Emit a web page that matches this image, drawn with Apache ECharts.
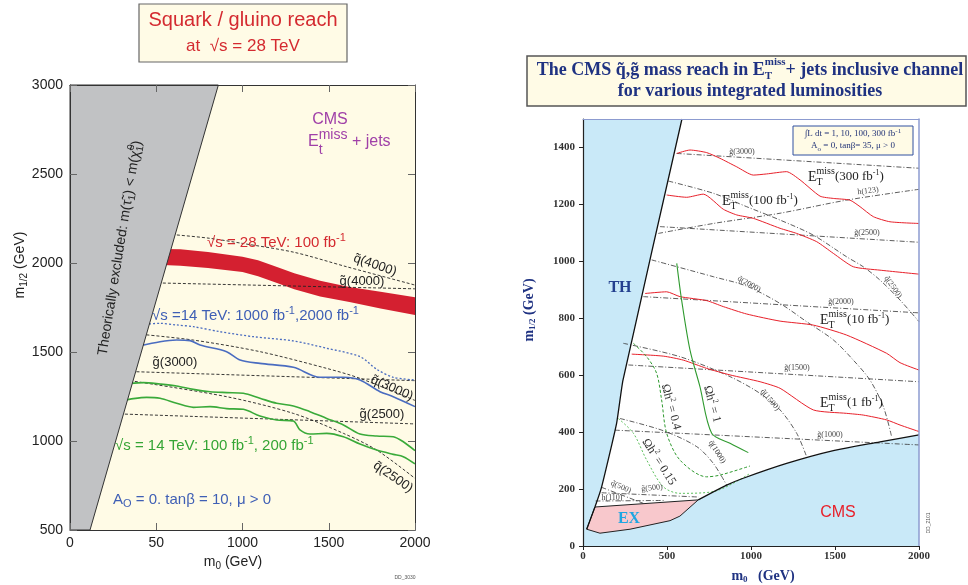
<!DOCTYPE html>
<html><head><meta charset="utf-8">
<script src="https://cdn.jsdelivr.net/npm/echarts@6/dist/echarts.min.js"></script>
<style>html,body{margin:0;padding:0;background:#fff}#c{width:968px;height:585px}</style>
</head><body><div id="c"></div><script>
// ---------------- LEFT PANEL DATA ----------------
const leftXTickLabels = ['0','50','1000','1500','2000'];
const leftExcluded = [[0,500],[0,3000],[860,3000],[116,500]];
const band28Upper = [[540,2079],[640,2077],[800,2062],[1000,2035],[1090,2015],[1200,1978],[1300,1942],[1450,1900],[1620,1865],[1800,1838],[2000,1808]];
const band28Lower = [[540,1989],[640,1985],[800,1972],[1000,1950],[1090,1925],[1200,1888],[1300,1852],[1450,1812],[1620,1781],[1800,1745],[2000,1708]];
const sq4000 = [[591,2160],[800,2140],[1000,2110],[1300,2060],[1600,1980],[2000,1876]];
const gl4000 = [[510,1888],[2000,1855]];
const sq3000 = [[415,1599],[715,1567],[1101,1502],[1488,1408],[1681,1352],[2000,1228]];
const gl3000 = [[357,1390],[2000,1339]];
const sq2500 = [[348,1339],[908,1249],[1295,1155],[1585,1043],[1778,949],[2000,790]];
const gl2500 = [[290,1152],[2000,1096]];
const blue2000 = [[435,1656],[522,1661],[618,1652],[715,1642],[870,1614],[1063,1586],[1295,1562],[1488,1521],[1681,1474],[1778,1403],[1874,1358],[2000,1343]];
const blue1000 = [[402,1534],[522,1558],[618,1567],[696,1564],[754,1539],[908,1502],[986,1455],[1101,1436],[1295,1414],[1449,1358],[1585,1358],[1681,1343],[1797,1277],[1874,1249],[2000,1193]];
const green200 = [[348,1324],[425,1328],[522,1320],[618,1309],[715,1290],[812,1277],[908,1272],[1005,1268],[1101,1240],[1198,1212],[1295,1197],[1391,1165],[1488,1127],[1585,1090],[1681,1039],[1778,1028],[1874,1024],[1932,996],[2000,946]];
const green100 = [[305,1227],[367,1238],[444,1245],[522,1240],[618,1212],[715,1189],[812,1193],[908,1182],[1005,1178],[1101,1140],[1198,1118],[1295,1112],[1333,1062],[1391,1039],[1488,1043],[1585,1024],[1681,983],[1778,949],[1874,925],[1932,912],[2000,871]];

// ---------------- RIGHT PANEL DATA ----------------
const rightYTicks = [0,200,400,600,800,1000,1200,1400];
const rAllowed = [[589,1500],[2000,1500],[2000,390],[1768,366],[1490,335],[1212,290],[954,238],[855,214],[686,162],[71,137],[111,208],[200,431],[238,583]];
const rEX = [[71,137],[686,162],[577,105],[518,89],[280,59],[101,45],[22,59]];
const rTHEdge = [[589,1500],[238,583],[200,431],[111,208],[71,137],[22,59]];
const rCMSEdge = [[686,162],[855,214],[954,238],[1212,290],[1490,335],[1768,366],[2000,390]];
const et300 = [[558,1379],[637,1391],[736,1382],[815,1362],[915,1332],[1014,1303],[1093,1307],[1212,1315],[1292,1286],[1411,1229],[1490,1221],[1589,1215],[1649,1192],[1728,1157],[1827,1139],[2000,1133]];
const et100 = [[498,1233],[617,1225],[716,1236],[835,1183],[915,1163],[1014,1151],[1173,1116],[1272,1098],[1391,1069],[1490,1028],[1609,981],[1768,969],[2000,955]];
const et10 = [[369,887],[498,893],[577,876],[736,862],[835,841],[974,815],[1173,790],[1371,776],[1569,741],[1807,677],[1887,644],[2000,618]];
const et1 = [[290,674],[478,667],[597,653],[736,624],[875,601],[1054,577],[1173,554],[1371,478],[1569,466],[1668,460],[1807,443],[1887,425],[2000,402]];
const rG3000 = [[558,1379],[2000,1327]];
const rQ2500 = [[508,1282],[776,1239],[974,1192],[1173,1145],[1371,1092],[1569,1016],[1668,981],[1768,934],[1887,864],[2000,788]];
const rH123 = [[448,1098],[776,1133],[1173,1169],[1569,1215],[2000,1253]];
const rG2500 = [[458,1122],[2000,1067]];
const rQ2000 = [[409,1005],[776,946],[974,913],[1173,852],[1331,788],[1490,724],[1609,653],[1708,583],[1788,489],[1837,384]];
const rG2000 = [[359,876],[2000,819]];
const rG1500 = [[270,636],[2000,577]];
const rQ1500 = [[240,712],[577,665],[875,595],[1054,536],[1173,478],[1272,396],[1331,314]];
const rG1000 = [[190,407],[2000,355]];
const rQ1000 = [[220,448],[478,405],[677,349],[776,290],[855,214]];
const rG500 = [[111,187],[690,172]];
const rQ500 = [[111,206],[359,150]];
const rH110 = [[75,158],[480,160]];
const omega1 = [[558,993],[587,864],[637,688],[696,560],[766,396],[875,361],[984,328]];
const omega04 = [[300,712],[379,665],[438,607],[468,513],[498,396],[577,302],[736,243],[815,249],[994,281]];
const omega015 = [[210,448],[300,396],[379,302],[478,208],[577,185],[776,191],[994,255]];

// ---------------- helpers ----------------
const FS = '"Liberation Sans", Arial, sans-serif';
const FR = '"Liberation Serif", "Times New Roman", serif';
const mctx = document.createElement('canvas').getContext('2d');
function tw(t, font){ mctx.font = font; return mctx.measureText(t).width; }
function txt(x,y,t,font,fill){
  return {type:'text', x:x, y:y, z:100, silent:true,
    style:{text:t, font:font, fill:fill, textAlign:'left', textVerticalAlign:'middle', align:'left', verticalAlign:'middle'}};
}
function seq(x, y, segs, o){
  o = o || {};
  const w = segs.map(s => s.stack ? Math.max(tw(s.sup,s.font), tw(s.sub,s.font)) : tw(s.t, s.font));
  const total = w.reduce((a,b)=>a+b,0);
  let cx = o.align==='center' ? -total/2 : (o.align==='right' ? -total : 0);
  const ch = [];
  segs.forEach((s,i)=>{
    const fill = s.fill || o.fill;
    if (s.stack){
      ch.push(txt(cx, s.supDy, s.sup, s.font, fill));
      ch.push(txt(cx, s.subDy, s.sub, s.font, fill));
    } else ch.push(txt(cx, s.dy||0, s.t, s.font, fill));
    cx += w[i];
  });
  return {type:'group', x:x, y:y, rotation:o.rot||0, z:100, children:ch};
}
function poly(xi, yi, pts, style, z){
  return {type:'custom', xAxisIndex:xi, yAxisIndex:yi, silent:true, z:z, data:[0], animation:false,
    renderItem:(p, api)=>({type:'polygon', shape:{points: pts.map(q=>api.coord(q))}, style:style})};
}
function line(xi, yi, pts, color, width, type, z, smooth){
  return {type:'line', xAxisIndex:xi, yAxisIndex:yi, data:pts, symbol:'none', silent:true, z:z||3,
    smooth: smooth===undefined?0.3:smooth, animation:false,
    lineStyle:{color:color, width:width, type:type||'solid'}};
}

// ---------------- axes ----------------
function leftAxisLine(){ return {show:true, onZero:false, lineStyle:{color:'#333', width:1}}; }
function leftTick(){ return {show:true, inside:false, length:-7, lineStyle:{color:'#666', width:1}}; }
const rTickLabel = {color:'#333', fontFamily:FR, fontWeight:'bold', fontSize:11};
const plain = v => String(v);
const xAxes = [
  {gridIndex:0, type:'value', min:0, max:2000, interval:500, position:'bottom', z:10,
   axisLine:leftAxisLine(), axisTick:leftTick(), splitLine:{show:false},
   axisLabel:{formatter:v=>leftXTickLabels[Math.round(v/500)], color:'#222', fontSize:14, fontFamily:FS, margin:6}},
  {gridIndex:0, type:'value', min:0, max:2000, interval:500, position:'top', z:10,
   axisLine:leftAxisLine(), axisTick:leftTick(), splitLine:{show:false}, axisLabel:{show:false}},
  {gridIndex:1, type:'value', min:0, max:2000, interval:500, position:'bottom', z:10,
   axisLine:{show:true, onZero:false, lineStyle:{color:'#222', width:1.2}}, axisTick:{show:true, inside:false, length:4, lineStyle:{color:'#222'}},
   splitLine:{show:false}, axisLabel:Object.assign({margin:5, formatter:plain}, rTickLabel)},
  {gridIndex:1, type:'value', min:0, max:2000, position:'top', z:10,
   axisLine:{show:true, onZero:false, lineStyle:{color:'#8c9bd0', width:1}}, axisTick:{show:false}, splitLine:{show:false}, axisLabel:{show:false}}
];
const yAxes = [
  {gridIndex:0, type:'value', min:500, max:3000, interval:500, position:'left', z:10,
   axisLine:leftAxisLine(), axisTick:leftTick(), splitLine:{show:false},
   axisLabel:{color:'#222', fontSize:14, fontFamily:FS, margin:7, formatter:plain}},
  {gridIndex:0, type:'value', min:500, max:3000, interval:500, position:'right', z:10,
   axisLine:leftAxisLine(), axisTick:leftTick(), splitLine:{show:false}, axisLabel:{show:false}},
  {gridIndex:1, type:'value', min:0, max:1500, position:'left', z:10,
   axisLine:{show:true, onZero:false, lineStyle:{color:'#222', width:1.2}},
   axisTick:{show:true, inside:false, length:4, customValues:rightYTicks, lineStyle:{color:'#222'}},
   splitLine:{show:false}, axisLabel:Object.assign({margin:8, customValues:rightYTicks, formatter:plain}, rTickLabel)},
  {gridIndex:1, type:'value', min:0, max:1500, position:'right', z:10,
   axisLine:{show:true, onZero:false, lineStyle:{color:'#8c9bd0', width:1.5}}, axisTick:{show:false}, splitLine:{show:false}, axisLabel:{show:false}}
];

// ---------------- series ----------------
const DASH = [3,2];
const DD = [5,2,1,2];
const series = [
  // left
  poly(0,0, band28Upper.concat(band28Lower.slice().reverse()), {fill:'#D42030'}, 1),
  line(0,0, sq4000, '#222', 0.9, DASH, 3),
  line(0,0, gl4000, '#222', 0.9, DASH, 3),
  line(0,0, sq3000, '#222', 0.9, DASH, 3),
  line(0,0, gl3000, '#222', 0.9, DASH, 3),
  line(0,0, sq2500, '#222', 0.9, DASH, 3),
  line(0,0, gl2500, '#222', 0.9, DASH, 3),
  line(0,0, blue2000, '#4a6cc0', 1.3, [2,2], 4),
  line(0,0, blue1000, '#4a6cc0', 1.6, 'solid', 4),
  line(0,0, green200, '#3aaa3a', 1.6, 'solid', 4),
  line(0,0, green100, '#3aaa3a', 1.6, 'solid', 4),
  poly(0,0, leftExcluded, {fill:'#c1c2c4', stroke:'#333', lineWidth:1}, 6),
  // right
  poly(2,2, rAllowed, {fill:'#ffffff'}, 1),
  poly(2,2, rEX, {fill:'#f8c8cc', stroke:'#222', lineWidth:1}, 2),
  line(2,2, rTHEdge, '#111', 1.3, 'solid', 5, 0.15),
  line(2,2, rCMSEdge, '#111', 1.3, 'solid', 5, 0.3),
  line(2,2, rG3000, '#333', 0.8, DD, 3),
  line(2,2, rQ2500, '#333', 0.8, DD, 3),
  line(2,2, rH123, '#333', 0.8, DD, 3),
  line(2,2, rG2500, '#333', 0.8, DD, 3),
  line(2,2, rQ2000, '#333', 0.8, DD, 3),
  line(2,2, rG2000, '#333', 0.8, DD, 3),
  line(2,2, rG1500, '#333', 0.8, DD, 3),
  line(2,2, rQ1500, '#333', 0.8, DD, 3),
  line(2,2, rG1000, '#333', 0.8, DD, 3),
  line(2,2, rQ1000, '#333', 0.8, DD, 3),
  line(2,2, rG500, '#333', 0.8, DD, 3),
  line(2,2, rQ500, '#333', 0.8, DD, 3),
  line(2,2, rH110, '#333', 0.8, DD, 3),
  line(2,2, et300, '#e8202a', 1, 'solid', 4, 0.2),
  line(2,2, et100, '#e8202a', 1, 'solid', 4, 0.2),
  line(2,2, et10, '#e8202a', 1, 'solid', 4, 0.2),
  line(2,2, et1, '#e8202a', 1, 'solid', 4, 0.2),
  line(2,2, omega1, '#2f9a2f', 1.1, 'solid', 4, 0.3),
  line(2,2, omega04, '#2f9a2f', 1, [3,2], 4, 0.3),
  line(2,2, omega015, '#5cc05c', 1, [2,2], 4, 0.3)
];

// ---------------- text / graphics ----------------
const RED = '#d42a30', BLUE = '#3f5fb5', GREEN = '#35a535', PURPLE = '#a040a8', NAVY = '#1f3282';
const g = [];
// left title box
g.push({type:'rect', shape:{x:139, y:4, width:208, height:58}, style:{fill:'#fffbe6', stroke:'#666', lineWidth:1.2}, z:90});
g.push(seq(243, 20, [{t:'Squark / gluino reach', font:'20px '+FS}], {align:'center', fill:RED}));
g.push(seq(243, 46, [{t:'at  \u221As = 28 TeV', font:'17px '+FS}], {align:'center', fill:RED}));
// left axis names
g.push(seq(20, 265, [{t:'m', font:'14px '+FS},{t:'1/2', font:'10px '+FS, dy:4},{t:' (GeV)', font:'14px '+FS}], {align:'center', rot:Math.PI/2, fill:'#222'}));
g.push(seq(233, 562, [{t:'m', font:'14px '+FS},{t:'0', font:'10px '+FS, dy:4},{t:' (GeV)', font:'14px '+FS}], {align:'center', fill:'#222'}));
g.push(seq(405, 578, [{t:'DD_3030', font:'5px '+FS}], {align:'center', fill:'#555'}));
// left annotations
g.push(seq(330, 120, [{t:'CMS', font:'16px '+FS}], {align:'center', fill:PURPLE}));
g.push(seq(308, 142, [{t:'E', font:'16px '+FS},{stack:true, sup:'miss', sub:'t', font:'14px '+FS, supDy:-7, subDy:8},{t:' + jets', font:'16px '+FS}], {fill:PURPLE}));
g.push(seq(120, 248, [{t:'Theorically excluded: m(\u03C4\u0303', font:'14px '+FS},{t:'1', font:'10px '+FS, dy:4},{t:') < m(\u03C7\u0303', font:'14px '+FS},{stack:true, sup:'0', sub:'1', font:'10px '+FS, supDy:-5, subDy:4},{t:')', font:'14px '+FS}], {align:'center', rot:1.41, fill:'#222'}));
g.push(seq(207, 243, [{t:'\u221As = 28 TeV: 100 fb', font:'15px '+FS},{t:'-1', font:'11px '+FS, dy:-5}], {fill:RED}));
g.push(seq(375, 265, [{t:'q\u0303(4000)', font:'13px '+FS}], {align:'center', rot:-0.33, fill:'#222'}));
g.push(seq(362, 281, [{t:'g\u0303(4000)', font:'13px '+FS}], {align:'center', fill:'#222'}));
g.push(seq(152, 316, [{t:'\u221As =14 TeV: 1000 fb', font:'15px '+FS},{t:'-1', font:'11px '+FS, dy:-5},{t:',2000 fb', font:'15px '+FS},{t:'-1', font:'11px '+FS, dy:-5}], {fill:BLUE}));
g.push(seq(175, 362, [{t:'g\u0303(3000)', font:'13px '+FS}], {align:'center', fill:'#222'}));
g.push(seq(392, 388, [{t:'q\u0303(3000)', font:'13px '+FS}], {align:'center', rot:-0.42, fill:'#222'}));
g.push(seq(382, 414, [{t:'g\u0303(2500)', font:'13px '+FS}], {align:'center', fill:'#222'}));
g.push(seq(393, 477, [{t:'q\u0303(2500)', font:'13px '+FS}], {align:'center', rot:-0.6, fill:'#222'}));
g.push(seq(115, 446, [{t:'\u221As = 14 TeV: 100 fb', font:'15px '+FS},{t:'-1', font:'11px '+FS, dy:-5},{t:', 200 fb', font:'15px '+FS},{t:'-1', font:'11px '+FS, dy:-5}], {fill:GREEN}));
g.push(seq(113, 500, [{t:'A', font:'15px '+FS},{t:'O', font:'11px '+FS, dy:4},{t:' = 0. tan\u03B2 = 10, \u03BC > 0', font:'15px '+FS}], {fill:BLUE}));

// right title box
g.push({type:'rect', shape:{x:527, y:56, width:439, height:50}, style:{fill:'#fffbe6', stroke:'#555', lineWidth:1.5}, z:90});
g.push(seq(750, 70, [{t:'The CMS q\u0303,g\u0303 mass reach in E', font:'bold 18px '+FR},{stack:true, sup:'miss', sub:'T', font:'bold 11px '+FR, supDy:-8, subDy:6},{t:'+ jets inclusive channel', font:'bold 18px '+FR}], {align:'center', fill:NAVY}));
g.push(seq(750, 91, [{t:'for various integrated luminosities', font:'bold 18px '+FR}], {align:'center', fill:NAVY}));
// right axis names
g.push(seq(529, 310, [{t:'m', font:'bold 14px '+FR},{t:'1/2', font:'bold 9px '+FR, dy:4},{t:' (GeV)', font:'bold 14px '+FR}], {align:'center', rot:Math.PI/2, fill:NAVY}));
g.push(seq(763, 576, [{t:'m', font:'bold 14px '+FR},{t:'0', font:'bold 9px '+FR, dy:4},{t:'   (GeV)', font:'bold 14px '+FR}], {align:'center', fill:NAVY}));
g.push(seq(929, 523, [{t:'DD_2101', font:'5px '+FS}], {align:'center', rot:Math.PI/2, fill:'#555'}));
// right legend box
g.push({type:'rect', shape:{x:793, y:126, width:120, height:29}, style:{fill:'#fffbe6', stroke:'#3050a0', lineWidth:1}, z:90});
g.push(seq(853, 134, [{t:'\u222BL dt = 1, 10, 100, 300 fb', font:'9px '+FR},{t:'-1', font:'7px '+FR, dy:-3}], {align:'center', fill:'#223377'}));
g.push(seq(853, 146, [{t:'A', font:'9px '+FR},{t:'o', font:'7px '+FR, dy:3},{t:' = 0, tan\u03B2= 35, \u03BC > 0', font:'9px '+FR}], {align:'center', fill:'#223377'}));
// region labels
g.push(seq(620, 288, [{t:'TH', font:'bold 16px '+FR}], {align:'center', fill:'#24408f'}));
g.push(seq(629, 519, [{t:'EX', font:'bold 16px '+FR}], {align:'center', fill:'#1ea6e2'}));
g.push(seq(838, 513, [{t:'CMS', font:'16px '+FS}], {align:'center', fill:'#e8202a'}));
// Et miss labels
function etm(x, y, lum){
  return seq(x, y, [{t:'E', font:'14px '+FR},{stack:true, sup:'miss', sub:'T', font:'10px '+FR, supDy:-6, subDy:5},{t:'(' + lum + ' fb', font:'13px '+FR},{t:'-1', font:'8px '+FR, dy:-4},{t:')', font:'13px '+FR}], {fill:'#222'});
}
g.push(etm(808, 177, '300'));
g.push(etm(722, 201, '100'));
g.push(etm(820, 320, '10'));
g.push(etm(820, 403, '1'));
// small iso-mass labels
const SM = '8px '+FR;
g.push(seq(742, 152, [{t:'g\u0303(3000)', font:SM}], {align:'center', fill:'#444'}));
g.push(seq(868, 191, [{t:'h(123)', font:SM}], {align:'center', rot:0.12, fill:'#444'}));
g.push(seq(867, 233, [{t:'g\u0303(2500)', font:SM}], {align:'center', fill:'#444'}));
g.push(seq(749, 284, [{t:'q\u0303(2000)', font:SM}], {align:'center', rot:-0.5, fill:'#444'}));
g.push(seq(893, 287, [{t:'q\u0303(2500)', font:SM}], {align:'center', rot:-0.95, fill:'#444'}));
g.push(seq(841, 302, [{t:'g\u0303(2000)', font:SM}], {align:'center', fill:'#444'}));
g.push(seq(797, 368, [{t:'g\u0303(1500)', font:SM}], {align:'center', fill:'#444'}));
g.push(seq(770, 400, [{t:'q\u0303(1500)', font:SM}], {align:'center', rot:-0.85, fill:'#444'}));
g.push(seq(830, 435, [{t:'g\u0303(1000)', font:SM}], {align:'center', fill:'#444'}));
g.push(seq(717, 452, [{t:'q\u0303(1000)', font:SM}], {align:'center', rot:-1.0, fill:'#444'}));
g.push(seq(652, 488, [{t:'g\u0303(500)', font:SM}], {align:'center', rot:0.1, fill:'#444'}));
g.push(seq(621, 487, [{t:'q\u0303(500)', font:SM}], {align:'center', rot:-0.4, fill:'#444'}));
g.push(seq(612, 498, [{t:'h(110)', font:SM}], {align:'center', fill:'#444'}));
// omega labels
g.push(seq(671, 407, [{t:'\u03A9h', font:'12px '+FR},{t:'2', font:'8px '+FR, dy:-4},{t:' = 0.4', font:'12px '+FR}], {align:'center', rot:-1.3, fill:'#333'}));
g.push(seq(712, 404, [{t:'\u03A9h', font:'12px '+FR},{t:'2', font:'8px '+FR, dy:-4},{t:' = 1', font:'12px '+FR}], {align:'center', rot:-1.3, fill:'#333'}));
g.push(seq(659, 462, [{t:'\u03A9h', font:'12px '+FR},{t:'2', font:'8px '+FR, dy:-4},{t:' = 0.15', font:'12px '+FR}], {align:'center', rot:-1.0, fill:'#333'}));

const chart = echarts.init(document.getElementById('c'), null, {renderer:'canvas'});
chart.setOption({
  animation:false,
  backgroundColor:'#ffffff',
  grid:[
    {left:70, top:85, width:345, height:445, show:true, backgroundColor:'#fffbe6', borderWidth:0},
    {left:583, top:119, width:336, height:427, show:true, backgroundColor:'#c9e9f8', borderWidth:0}
  ],
  xAxis:xAxes,
  yAxis:yAxes,
  series:series,
  graphic:{elements:g}
});
</script></body></html>
